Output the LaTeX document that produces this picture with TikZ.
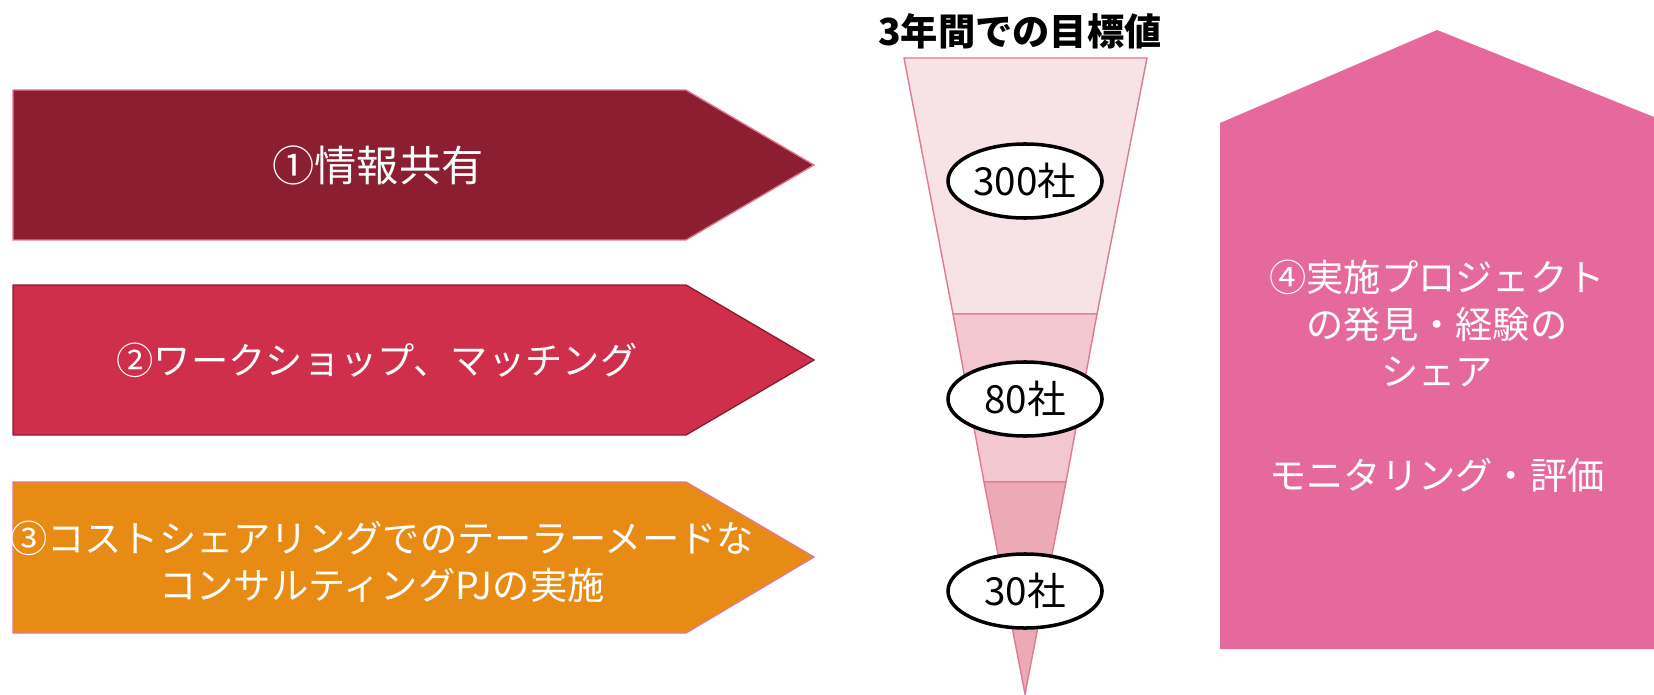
\documentclass[tikz,border=0pt]{standalone}
\usepackage{fontspec}
\setmainfont{Noto Sans CJK JP}
\usetikzlibrary{shapes.geometric}
\definecolor{wine}{HTML}{8B1F31}
\definecolor{crimson}{HTML}{D02F4B}
\definecolor{amber}{HTML}{E88B14}
\definecolor{rim}{HTML}{DE7A94}
\definecolor{house}{HTML}{E6699E}
\definecolor{bandA}{HTML}{F7E2E6}
\definecolor{bandB}{HTML}{F2C7D0}
\definecolor{bandC}{HTML}{ECAAB6}

\begin{document}
\begin{tikzpicture}[x=0.025cm,y=-0.025cm]
\tikzset{steparrow/.style={line width=1pt},
  whitetext/.style={text=white,font=\fontsize{26.5}{33.5}\selectfont,align=center},
  goal/.style={ellipse,draw=black,line width=2.5pt,fill=white,minimum width=3.85cm,minimum height=1.85cm,inner sep=0pt,font=\fontsize{27.5}{30}\selectfont},
  band/.style={draw=rim,line width=1pt}}
\useasboundingbox (0,0) rectangle (1654,695);

% left arrows
\draw[steparrow,fill=wine,draw=rim] (13,90) -- (686,90) -- (814,165) -- (686,240) -- (13,240) -- cycle;
\draw[steparrow,fill=crimson,draw=wine] (13,285) -- (686,285) -- (814,360) -- (686,435) -- (13,435) -- cycle;
\draw[steparrow,fill=amber,draw=rim] (13,482) -- (686,482) -- (814,557) -- (686,633) -- (13,633) -- cycle;
\node[whitetext,font=\fontsize{30}{34}\selectfont] (share) at (378,165) {①情報共有};
\node[whitetext] (workshop) at (377,360) {②ワークショップ、マッチング};
\node[whitetext] (consult) at (382,562) {③コストシェアリングでのテーラーメードな\\コンサルティングPJの実施};

% funnel
\draw[band,fill=bandA] (904,58) -- (1147,58) -- (1097,314) -- (953,314) -- cycle;
\draw[band,fill=bandB] (953,314) -- (1097,314) -- (1066,482) -- (984,482) -- cycle;
\draw[band,fill=bandC] (984,482) -- (1066,482) -- (1025,694) -- cycle;
\node[font=\bfseries\fontsize{26.5}{30}\selectfont] (title) at (1020,31) {3年間での目標値};
\node[goal] (g300) at (1025,181) {300社};
\node[goal] (g80) at (1025,399) {80社};
\node[goal] (g30) at (1025,591) {30社};

% right pentagon
\fill[house] (1220,123) -- (1437,30) -- (1654,117) -- (1654,649) -- (1220,649) -- cycle;
\node[whitetext] (project) at (1437,376) {④実施プロジェクト\\の発見・経験の\\シェア\\[40pt]モニタリング・評価};

\end{tikzpicture}
\end{document}
